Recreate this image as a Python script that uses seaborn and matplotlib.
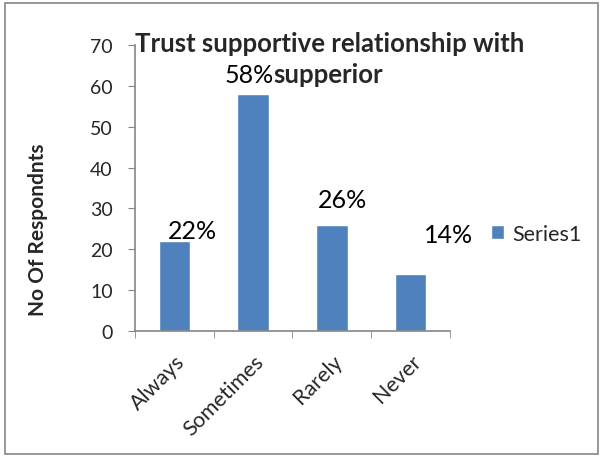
import matplotlib
matplotlib.use("Agg")
import matplotlib.pyplot as plt
import seaborn as sns
import pandas as pd
from matplotlib.patches import Rectangle

# dados do grafico
categorias = ['Always', 'Sometimes', 'Rarely', 'Never']
respondentes = [22, 58, 26, 14]
rotulos = ['22%', '58%', '26%', '14%']
# deslocamento dos rotulos (categoria, valor), como no Excel
desloc_x = [0.23, -0.05, 0.14, 0.48]
desloc_y = [0.8, 2.9, 4.3, 7.8]

df = pd.DataFrame({'Categoria': categorias, 'Respondentes': respondentes})

sns.set_style("white")
plt.rcParams['font.family'] = ['Lato', 'DejaVu Sans']

fig = plt.figure(figsize=(6.03, 4.60), dpi=100)
ax = fig.add_axes([0.224, 0.278, 0.522, 0.622])

sns.barplot(data=df, x='Categoria', y='Respondentes', color='#4F81BD',
            width=0.4, saturation=1, ax=ax, label='Series1')

ax.set_ylim(0, 70)
ax.set_xlim(-0.5, 3.5)
ax.set_yticks(range(0, 71, 10))
ax.tick_params(axis='y', labelsize=14, length=5, color='#868686', direction='out',
               left=True, pad=11)
ax.set_xticks(range(len(categorias)))
ax.set_xticklabels(categorias, rotation=45, ha='right', rotation_mode='anchor', fontsize=15.5)
ax.tick_params(axis='x', which='major', length=0, pad=14)
ax.set_xticks([i - 0.5 for i in range(len(categorias) + 1)], minor=True)
ax.tick_params(axis='x', which='minor', length=5, color='#868686', direction='out', bottom=True)

for s in ['top', 'right']:
    ax.spines[s].set_visible(False)
for s in ['left', 'bottom']:
    ax.spines[s].set_color('#868686')
    ax.spines[s].set_linewidth(1.2)

ax.set_xlabel('')
ax.set_ylabel('No Of Respondnts', fontsize=15, fontweight='bold')
ax.yaxis.set_label_coords(-0.276, 0.357)

# rotulos de dados
for i, v in enumerate(respondentes):
    ax.text(i + desloc_x[i], v + desloc_y[i], rotulos[i], ha='center', va='baseline',
            fontsize=18, color='black')

# titulo sobreposto ao grafico
fig.text(0.547, 0.887, 'Trust supportive relationship with', ha='center', va='baseline',
         fontsize=18.5, fontweight='bold')
fig.text(0.544, 0.820, 'supperior', ha='center', va='baseline',
         fontsize=18.5, fontweight='bold')

leg = ax.legend(loc='center left', bbox_to_anchor=(1.07, 0.34), frameon=False,
                fontsize=15.5, handlelength=0.6, handleheight=0.6, handletextpad=0.4)

# borda da figura
fig.patches.append(Rectangle((0.008, 0.01), 0.984, 0.982, transform=fig.transFigure,
                             fill=False, edgecolor='#868686', linewidth=1.2))

fig.savefig('out.png', dpi=100)
